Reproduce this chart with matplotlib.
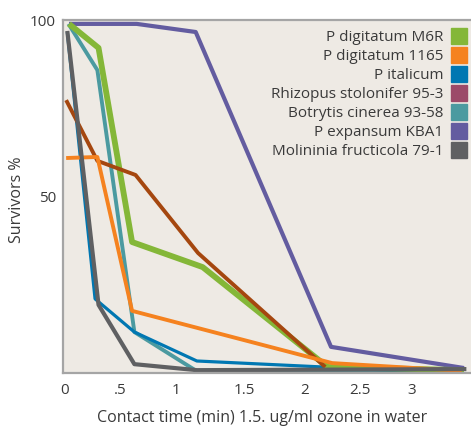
import numpy as np
import matplotlib.pyplot as plt
from matplotlib.lines import Line2D

plt.rcParams['font.family'] = ['Open Sans', 'DejaVu Sans']

# survival curves (time in min, survivors in %)
names = ['P digitatum M6R', 'P digitatum 1165', 'P italicum',
         'Rhizopus stolonifer 95-3', 'Botrytis cinerea 93-58',
         'P expansum KBA1', 'Molininia fructicola 79-1']
legend_colors = ['#84b738', '#f5821f', '#0077b2', '#9c4a69', '#4b9aa0', '#635ca0', '#5f6062']

m6r_t = [0.035, 0.29, 0.58, 1.19, 2.27, 3.45]
m6r_s = [98.9, 92.1, 37.1, 30.0, 1.7, 0.8]
d1165_t = [0.01, 0.28, 0.58, 2.31, 3.43]
d1165_s = [60.9, 61.2, 17.6, 2.8, 0.6]
ital_t = [0.02, 0.26, 0.60, 1.14, 3.32]
ital_s = [96.6, 21.0, 11.6, 3.4, 0.0]
rhiz_t = [0.01, 0.28, 0.61, 1.15, 2.25]
rhiz_s = [77.3, 60.1, 56.1, 34.0, 1.7]
botr_t = [0.03, 0.28, 0.60, 1.14, 3.30]
botr_s = [98.9, 85.8, 11.6, 0.5, 0.3]
kba_t = [0.035, 0.62, 1.13, 2.30, 3.45]
kba_s = [98.9, 98.9, 96.6, 7.4, 1.4]
moli_t = [0.02, 0.29, 0.60, 1.14, 3.47]
moli_s = [96.9, 19.3, 2.5, 0.8, 1.1]

tick_labels = ['0', '.5', '1', '1.5', '2', '2.5', '3']

fig = plt.figure(figsize=(4.71, 4.33), dpi=100)
ax = fig.add_axes([0.1338, 0.1386, 0.8662, 0.8152])
ax.set_facecolor('#eeeae4')

ax.plot(kba_t, kba_s, color='#635ca0', lw=3.0, solid_capstyle='butt')
ax.plot(botr_t, botr_s, color='#4b9aa0', lw=2.8, solid_capstyle='butt')
ax.plot(ital_t, ital_s, color='#0077b2', lw=2.3, solid_capstyle='butt')
ax.plot(m6r_t, m6r_s, color='#84b738', lw=4.2, solid_capstyle='butt')
ax.plot(rhiz_t, rhiz_s, color='#a5470f', lw=2.8, solid_capstyle='butt')
ax.plot(d1165_t, d1165_s, color='#f5821f', lw=2.8, solid_capstyle='butt')
ax.plot(moli_t, moli_s, color='#5f6062', lw=3.0, solid_capstyle='butt')

ax.set_xlim(-0.017, 3.51)
ax.set_ylim(0, 100)
ax.set_xticks([0, 0.48, 0.96, 1.55, 2.07, 2.55, 3.0])
ax.set_xticklabels(tick_labels)
ax.set_yticks([50, 100])
ax.tick_params(axis='x', length=0, labelsize=11, colors='#3a3a3a', pad=7)
ax.tick_params(axis='y', length=0, labelsize=11, colors='#3a3a3a', pad=5)

for s in ['left', 'bottom', 'top']:
    ax.spines[s].set_color('#a5a5a5')
    ax.spines[s].set_linewidth(1.6)
ax.spines['right'].set_visible(False)

ax.set_ylabel('Survivors %', fontsize=11.5, color='#3a3a3a')
ax.yaxis.set_label_coords(-0.093, 0.49)
ax.set_xlabel('Contact time (min) 1.5. ug/ml ozone in water', fontsize=11.5, color='#3a3a3a')
ax.xaxis.set_label_coords(0.487, -0.105)

handles = [Line2D([], [], ls='none', marker='s', markersize=11, color=c) for c in legend_colors]
leg = ax.legend(handles, names, loc='upper right', frameon=False, markerfirst=False,
                fontsize=11, labelspacing=0.26, handletextpad=0.55, handlelength=1,
                borderaxespad=0.2, bbox_to_anchor=(1.013, 0.997))
for t in leg.get_texts():
    t.set_color('#3a3a3a')

fig.savefig('out.png', dpi=100)
